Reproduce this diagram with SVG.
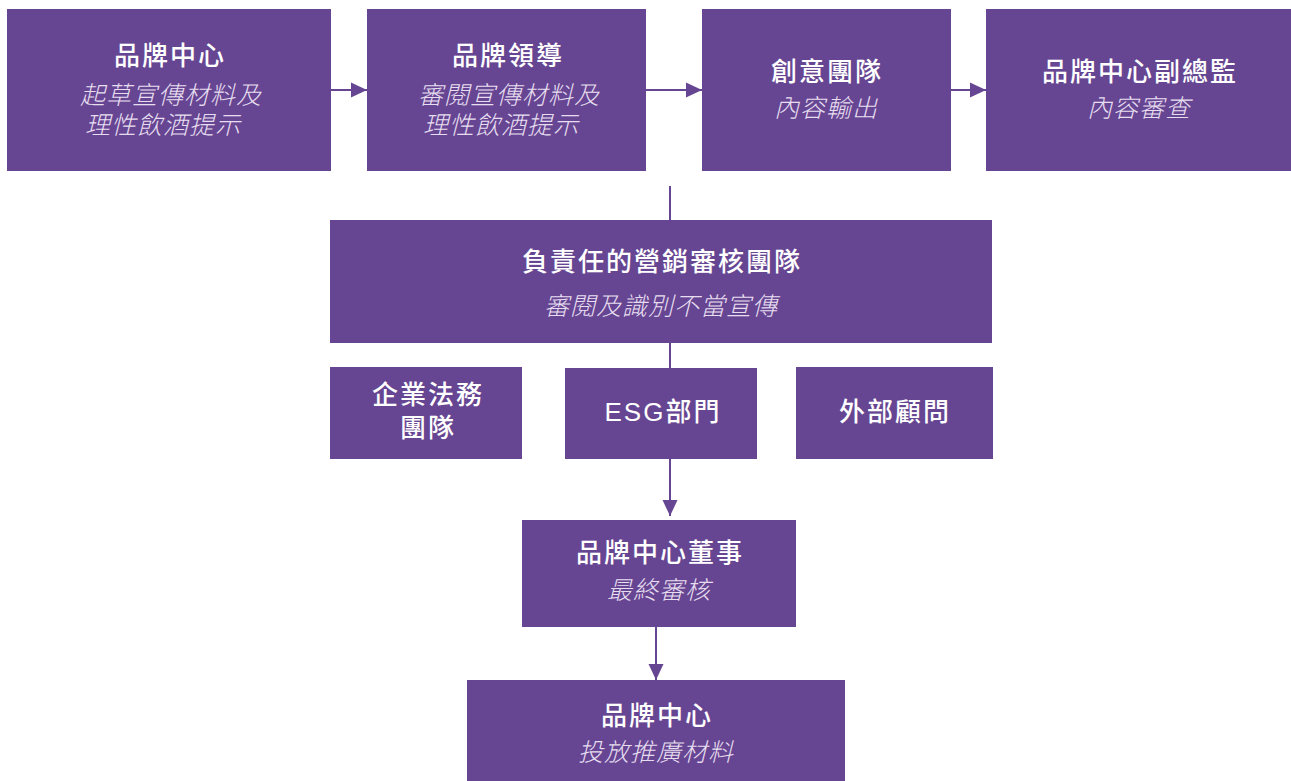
<svg xmlns="http://www.w3.org/2000/svg" width="1291" height="781" viewBox="0 0 1291 781">
<style>
.box{fill:#664692}
.t{font-family:"Liberation Sans","Noto Sans CJK TC",sans-serif;font-size:26px;font-weight:500;letter-spacing:2px;fill:#ffffff;text-anchor:middle}
.s{font-family:"Liberation Sans","Noto Sans CJK TC",sans-serif;font-size:25px;font-weight:300;font-style:italic;letter-spacing:1px;fill:#e6def0;text-anchor:middle}
.c{stroke:#664692;stroke-width:2;fill:none}
</style>
<defs>
<marker id="ah" markerWidth="16" markerHeight="16" refX="16" refY="8" orient="auto" markerUnits="userSpaceOnUse">
<path d="M0,0.5 L16,8 L0,15.5 Z" fill="#664692"/>
</marker>
</defs>
<rect width="1291" height="781" fill="#ffffff"/>
<g id="connectors">
<line class="c" x1="331" y1="90" x2="367" y2="90" marker-end="url(#ah)"/>
<line class="c" x1="646" y1="90" x2="702" y2="90" marker-end="url(#ah)"/>
<line class="c" x1="951" y1="90" x2="986" y2="90" marker-end="url(#ah)"/>
<line class="c" x1="670" y1="186" x2="670" y2="220"/>
<line class="c" x1="670" y1="343" x2="670" y2="368"/>
<line class="c" x1="670" y1="459" x2="670" y2="516" marker-end="url(#ah)"/>
<line class="c" x1="656" y1="627" x2="656" y2="680" marker-end="url(#ah)"/>
</g>
<g id="n1"><rect class="box" x="7" y="9" width="324" height="162"/>
<text class="t" x="170" y="65">品牌中心</text>
<text class="s" x="171" y="104">起草宣傳材料及</text>
<text class="s" x="163" y="134">理性飲酒提示</text></g>
<g id="n2"><rect class="box" x="367" y="9" width="279" height="162"/>
<text class="t" x="508" y="65">品牌領導</text>
<text class="s" x="509" y="104">審閱宣傳材料及</text>
<text class="s" x="501" y="134">理性飲酒提示</text></g>
<g id="n3"><rect class="box" x="702" y="9" width="249" height="162"/>
<text class="t" x="827" y="81">創意團隊</text>
<text class="s" x="826" y="117">內容輸出</text></g>
<g id="n4"><rect class="box" x="986" y="9" width="305" height="162"/>
<text class="t" x="1140" y="81">品牌中心副總監</text>
<text class="s" x="1139" y="117">內容審查</text></g>
<g id="n5"><rect class="box" x="330" y="220" width="662" height="123"/>
<text class="t" x="662" y="271">負責任的營銷審核團隊</text>
<text class="s" x="661" y="315">審閱及識別不當宣傳</text></g>
<g id="n6"><rect class="box" x="330" y="367" width="192" height="92"/>
<text class="t" x="428" y="404">企業法務</text>
<text class="t" x="428" y="437">團隊</text></g>
<g id="n7"><rect class="box" x="565" y="368" width="192" height="91"/>
<text class="t" x="663" y="421">ESG部門</text></g>
<g id="n8"><rect class="box" x="796" y="367" width="197" height="92"/>
<text class="t" x="895" y="421">外部顧問</text></g>
<g id="n9"><rect class="box" x="522" y="520" width="274" height="107"/>
<text class="t" x="660" y="562">品牌中心董事</text>
<text class="s" x="659" y="599">最終審核</text></g>
<g id="n10"><rect class="box" x="467" y="680" width="378" height="101"/>
<text class="t" x="657" y="725">品牌中心</text>
<text class="s" x="656" y="761">投放推廣材料</text></g>
</svg>
